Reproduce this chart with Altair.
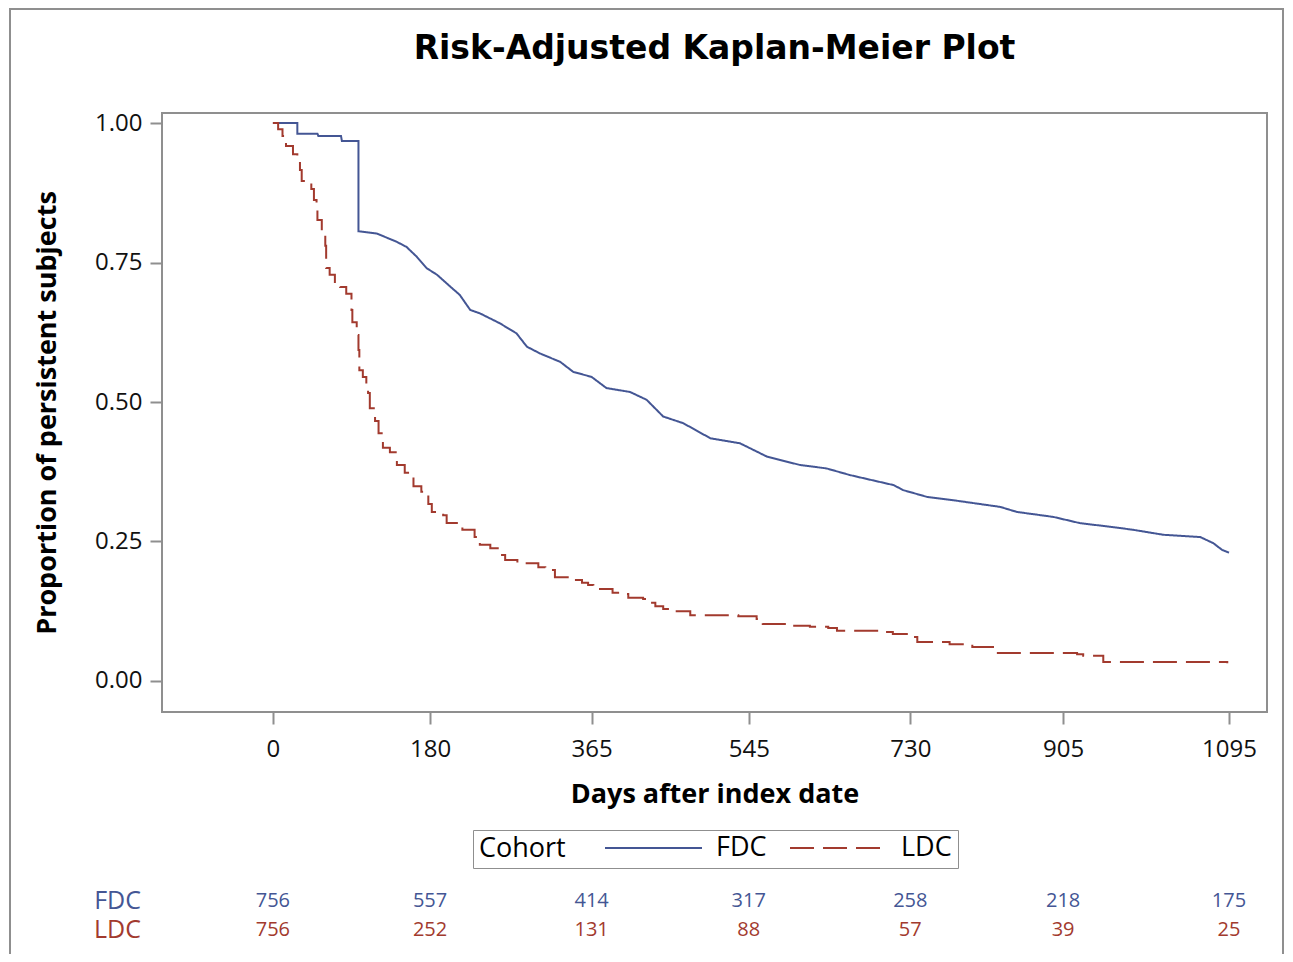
import altair as alt
import pandas as pd

# FDC curve: path points (day, proportion)
fdc_days = [0, 28, 28, 51, 52, 78, 79, 98, 98, 119, 142, 153, 165, 176, 188, 203,
            214, 226, 237, 260, 279, 291, 306, 329, 344, 365, 382, 409, 428, 447,
            470, 501, 535, 566, 604, 634, 661, 711, 722, 749, 779, 833, 852, 894,
            924, 966, 985, 1020, 1062, 1077, 1087, 1095]
fdc_surv = [1.0, 1.0, 0.981, 0.981, 0.977, 0.977, 0.968, 0.968, 0.806, 0.802,
            0.787, 0.778, 0.760, 0.740, 0.728, 0.707, 0.692, 0.665, 0.659, 0.641,
            0.623, 0.599, 0.587, 0.572, 0.554, 0.545, 0.525, 0.518, 0.504, 0.474,
            0.462, 0.435, 0.426, 0.402, 0.387, 0.381, 0.369, 0.351, 0.342, 0.330,
            0.324, 0.312, 0.303, 0.294, 0.283, 0.275, 0.271, 0.262, 0.258, 0.247,
            0.235, 0.230]

# LDC curve: step points (day, proportion)
ldc_days = [0, 6, 11, 15, 23, 28, 31, 33, 44, 47, 50, 51, 56, 60, 61, 65, 71, 77,
            84, 90, 91, 96, 98, 99, 103, 107, 109, 111, 117, 121, 126, 134, 142,
            151, 161, 170, 178, 182, 195, 199, 217, 231, 237, 249, 260, 266, 280,
            304, 312, 323, 340, 354, 361, 367, 389, 401, 407, 424, 430, 438, 447,
            458, 478, 533, 554, 561, 589, 615, 636, 646, 695, 710, 730, 738, 775,
            801, 829, 921, 928, 951, 1093]
ldc_surv = [1.0, 0.989, 0.977, 0.959, 0.944, 0.934, 0.916, 0.896, 0.882, 0.862,
            0.844, 0.826, 0.805, 0.780, 0.740, 0.728, 0.715, 0.706, 0.694, 0.665,
            0.643, 0.620, 0.593, 0.557, 0.545, 0.530, 0.516, 0.489, 0.466, 0.444,
            0.418, 0.410, 0.387, 0.373, 0.349, 0.339, 0.317, 0.303, 0.297, 0.283,
            0.271, 0.258, 0.244, 0.238, 0.226, 0.217, 0.211, 0.204, 0.199, 0.186,
            0.181, 0.176, 0.172, 0.165, 0.158, 0.156, 0.149, 0.147, 0.140, 0.134,
            0.129, 0.125, 0.118, 0.116, 0.111, 0.102, 0.099, 0.097, 0.095, 0.090,
            0.088, 0.084, 0.079, 0.070, 0.066, 0.061, 0.050, 0.048, 0.045, 0.034,
            0.032]

tick_days = [0, 180, 365, 545, 730, 905, 1095]
y_ticks = [0.0, 0.25, 0.5, 0.75, 1.0]
fdc_at_risk = [756, 557, 414, 317, 258, 218, 175]
ldc_at_risk = [756, 252, 131, 88, 57, 39, 25]

cohorts = ["FDC", "LDC"]
colors = ["#445694", "#A23A2E"]
dashes = [[1, 0], [24, 9]]
title_text = "Risk-Adjusted Kaplan-Meier Plot"

fdc_df = pd.DataFrame({"day": fdc_days, "surv": fdc_surv, "Cohort": "FDC",
                       "idx": list(range(len(fdc_days)))})
ldc_df = pd.DataFrame({"day": ldc_days, "surv": ldc_surv, "Cohort": "LDC",
                       "idx": list(range(len(ldc_days)))})
risk_fdc = pd.DataFrame({"day": tick_days, "n": fdc_at_risk})
risk_ldc = pd.DataFrame({"day": tick_days, "n": ldc_at_risk})

GRAY = "#8f8f8f"
x_scale = alt.Scale(domain=[-127, 1138.5], nice=False, zero=False)
y_scale = alt.Scale(domain=[-0.0556, 1.018], nice=False, zero=False)

leg = alt.Legend(
    title="Cohort", orient="none", legendX=311, legendY=717,
    direction="horizontal", titleOrient="left", titleFontSize=27,
    titleFontWeight="normal", titleFont="Open Sans", titleColor="black",
    titlePadding=38, labelFontSize=27, labelFont="Open Sans",
    labelColor="black", labelOffset=13, symbolType="stroke",
    symbolSize=9409, symbolStrokeWidth=2, clipHeight=24,
    strokeColor=GRAY, padding=6, columnPadding=22,
)

x_enc = alt.X("day:Q", scale=x_scale,
              axis=alt.Axis(values=tick_days, format="d",
                            title="Days after index date",
                            titlePadding=20, labelPadding=13))
y_enc = alt.Y("surv:Q", scale=y_scale,
              axis=alt.Axis(values=y_ticks, format=".2f",
                            title="Proportion of persistent subjects",
                            titlePadding=33, labelPadding=8))
c_enc = alt.Color("Cohort:N", scale=alt.Scale(domain=cohorts, range=colors),
                  legend=leg)
d_enc = alt.StrokeDash("Cohort:N", scale=alt.Scale(domain=cohorts, range=dashes),
                       legend=leg)

fdc_line = alt.Chart(fdc_df).mark_line(interpolate="linear", strokeWidth=2).encode(
    x=x_enc, y=y_enc, color=c_enc, strokeDash=d_enc, order="idx:Q")
ldc_line = alt.Chart(ldc_df).mark_line(interpolate="step-after", strokeWidth=2).encode(
    x=x_enc, y=y_enc, color=c_enc, strokeDash=d_enc, order="idx:Q")

fdc_txt = alt.Chart(risk_fdc).mark_text(
    font="Open Sans", fontSize=20, color=colors[0], baseline="middle"
).encode(x=alt.X("day:Q", scale=x_scale), y=alt.value(788), text="n:Q")
ldc_txt = alt.Chart(risk_ldc).mark_text(
    font="Open Sans", fontSize=20, color=colors[1], baseline="middle"
).encode(x=alt.X("day:Q", scale=x_scale), y=alt.value(817), text="n:Q")

row_labels = pd.DataFrame({"Cohort": cohorts})
fdc_lab = alt.Chart(row_labels.iloc[[0]]).mark_text(
    font="Open Sans", fontSize=25, color=colors[0], align="right", baseline="middle"
).encode(x=alt.value(-21), y=alt.value(788), text="Cohort:N")
ldc_lab = alt.Chart(row_labels.iloc[[1]]).mark_text(
    font="Open Sans", fontSize=25, color=colors[1], align="right", baseline="middle"
).encode(x=alt.value(-21), y=alt.value(817), text="Cohort:N")

title = alt.Chart(pd.DataFrame({"t": [title_text]})).mark_text(
    font="DejaVu Sans", fontSize=33, fontWeight="bold", color="black",
    align="center", baseline="middle"
).encode(x=alt.value(552.5), y=alt.value(-64), text="t:N")

frame = alt.Chart(pd.DataFrame({"a": [0]})).mark_rect(
    fill="transparent", stroke=GRAY, strokeWidth=2
).encode(x=alt.value(-152), x2=alt.value(1121), y=alt.value(-104), y2=alt.value(900))

chart = alt.layer(frame, fdc_line, ldc_line, fdc_txt, ldc_txt, fdc_lab, ldc_lab,
                  title).properties(
    width=1105, height=599,
    autosize=alt.AutoSizeParams(type="none"),
    padding={"left": 154, "top": 105, "right": 17, "bottom": 242},
).configure_view(stroke=GRAY, strokeWidth=2).configure_axis(
    domain=False, grid=False, tickColor=GRAY, tickWidth=2, tickSize=12,
    labelFont="Open Sans", labelFontSize=24, labelColor="#111111",
    titleFont="Open Sans", titleFontSize=27,
    titleFontWeight="bold", titleColor="black",
)

chart.save("out.html", embed_options={"renderer": "svg", "actions": False})
